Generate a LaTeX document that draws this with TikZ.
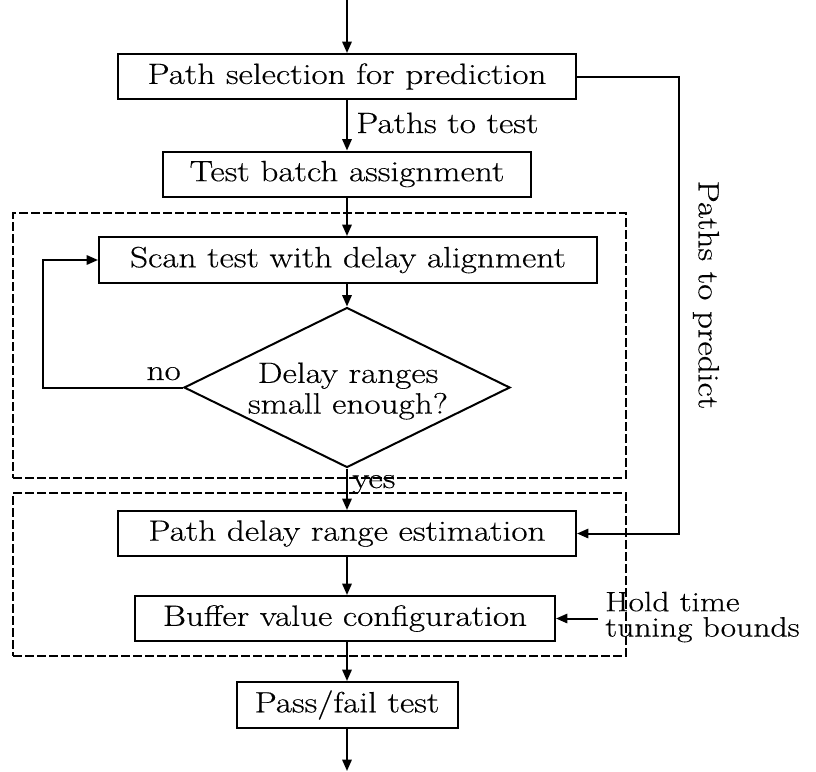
\documentclass[tikz,border=0pt]{standalone}
\usepackage{fontspec}
\setmainfont{Latin Modern Roman}[FakeStretch=1.2, FakeBold=0.4]
\usetikzlibrary{arrows.meta,shapes.geometric}

\tikzset{
  lbl/.style={font=\fontsize{22}{23}\selectfont, inner sep=0pt},
  stepbox/.style={draw, line width=1.5pt, lbl, minimum height=33.75pt},
  decision/.style={draw, diamond, line width=1.5pt, inner sep=0pt},
  grpbox/.style={draw, line width=1.2pt, dash pattern=on 6.5pt off 2.5pt, inner sep=0pt},
  arr/.style={line width=1.5pt, -{Triangle[length=8.5pt,width=7pt]}}
}

\begin{document}
\begin{tikzpicture}[x=0.75pt, y=-0.75pt]
\useasboundingbox (0,0) rectangle (816,771);

% dashed groups
\node[grpbox, minimum width=459.75pt, minimum height=198.75pt] (grpA) at (319.5,345.5) {};
\node[grpbox, minimum width=459.75pt, minimum height=122.25pt] (grpB) at (319.5,574.5) {};

% process steps
\node[stepbox, minimum width=343.5pt] (sel)  at (347,76.5)  {Path selection for prediction};
\node[stepbox, minimum width=276pt]   (bat)  at (347,174)   {Test batch assignment};
\node[stepbox, minimum width=373.5pt, minimum height=34.5pt] (scan) at (348,260) {Scan test with delay alignment};
\node[decision, minimum width=244.5pt, minimum height=120pt] (dia) at (347,387.5) {};
\node[lbl, align=center] (diatxt) at (348,391) {Delay ranges\\small enough?};
\node[stepbox, minimum width=343.5pt] (est)  at (347,533.5) {Path delay range estimation};
\node[stepbox, minimum width=315pt]   (buf)  at (345,618.5) {Buffer value configuration};
\node[stepbox, minimum width=165.75pt, minimum height=34.5pt] (pf) at (347,705) {Pass/fail test};

% free ends and bends
\coordinate (top)    at (347,0);
\coordinate (bottom) at (347,771);
\coordinate (loopc)  at (43,387.5);
\coordinate (rcorn)  at (679,533.5);
\coordinate (holdin) at (598,618.5);

% labels
\node[lbl, anchor=base west] (lt) at (356,133) {Paths to test};
\node[lbl, anchor=base east] (lno) at (181,380) {no};
\node[lbl, anchor=base west] (lyes) at (352,488) {yes};
\node[lbl, rotate=-90] (lpred) at (706,295) {Paths to predict};
\node[lbl, anchor=west, align=left, font=\fontsize{21}{19}\selectfont] (hold) at (605,617) {Hold time\\tuning bounds};

% connectors
\draw[arr] (top) -- (sel.north);
\draw[arr] (sel.south) -- (bat.north);
\draw[arr] (bat.south) -- (bat.south |- scan.north);
\draw[arr] (scan.south -| dia.north) -- (dia.north);
\draw[arr] (dia.west) -- (loopc) |- (scan.west);
\draw[arr] (dia.south) -- (est.north);
\draw[arr] (est.south) -- (est.south |- buf.north);
\draw[arr] (buf.south -| pf.north) -- (pf.north);
\draw[arr] (pf.south) -- (bottom);
\draw[arr] (sel.east) -| (rcorn) -- (est.east);
\draw[arr] (holdin) -- (buf.east);
\end{tikzpicture}
\end{document}
